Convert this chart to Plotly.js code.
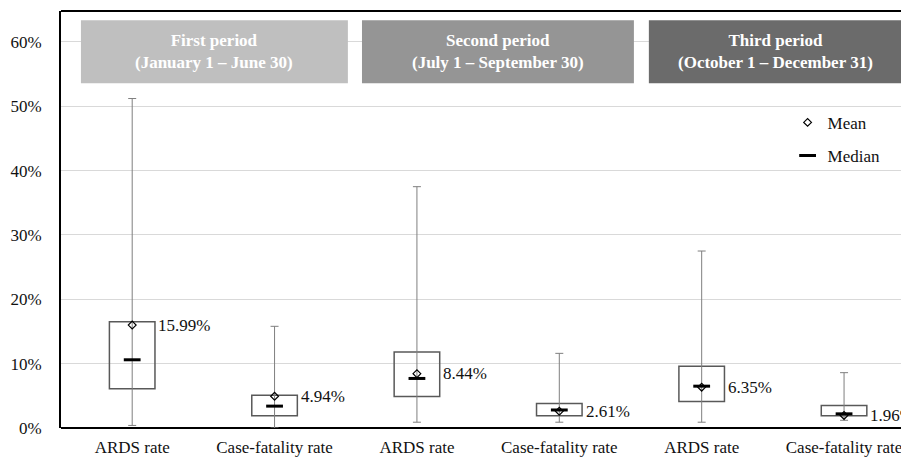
<!DOCTYPE html>
<html>
<head>
<meta charset="utf-8">
<script src="https://cdn.plot.ly/plotly-3.0.1.min.js"></script>
<style>
#chart text, #chart tspan { font-family: "Liberation Serif", serif !important; }
</style>
</head>
<body style="margin:0;background:#fff">
<div id="chart"></div>
<script>
// Data
const categories = ["ARDS rate", "Case-fatality rate", "ARDS rate", "Case-fatality rate", "ARDS rate", "Case-fatality rate"];
const minValues    = [0.004, 0.000, 0.009, 0.009, 0.009, 0.012];
const q1Values     = [0.061, 0.019, 0.049, 0.019, 0.041, 0.019];
const medianValues = [0.106, 0.034, 0.077, 0.028, 0.065, 0.022];
const q3Values     = [0.165, 0.051, 0.118, 0.038, 0.096, 0.035];
const maxValues    = [0.512, 0.158, 0.375, 0.116, 0.275, 0.086];
const meanValues   = [0.1599, 0.0494, 0.0844, 0.0261, 0.0635, 0.0196];
const meanLabels   = ["15.99%", "4.94%", "8.44%", "2.61%", "6.35%", "1.96%"];
const periodLabels = ["First period<br>(January 1 – June 30)", "Second period<br>(July 1 – September 30)", "Third period<br>(October 1 – December 31)"];
const periodColors = ["#bfbfbf", "#959595", "#6b6b6b"];

const xs = categories.map((_, i) => i);
const FAM = "Liberation Serif";
const TXT = "#111";

const boxTrace = {
  type: "bar", x: xs,
  y: q3Values.map((v, i) => v - q1Values[i]),
  base: q1Values, width: 0.32,
  marker: {color: "rgba(0,0,0,0)", line: {color: "#595959", width: 1.5}},
  showlegend: false, hoverinfo: "skip"
};
const whiskerTrace = {
  type: "scatter", mode: "markers", x: xs, y: medianValues,
  marker: {size: 1, color: "rgba(0,0,0,0)"},
  error_y: {type: "data", symmetric: false,
    array: maxValues.map((v, i) => v - medianValues[i]),
    arrayminus: medianValues.map((v, i) => v - minValues[i]),
    color: "#7f7f7f", thickness: 1, width: 4},
  showlegend: false, hoverinfo: "skip"
};
const meanTrace = {
  type: "scatter", mode: "markers", name: "Mean", legendgroup: "mean", x: xs, y: meanValues,
  marker: {symbol: "diamond-open", size: 6, color: "#000", line: {color: "#000", width: 1.2}}
};
const medianTrace = {
  type: "scatter", mode: "markers", name: "Median", legendgroup: "median", x: xs, y: medianValues,
  marker: {symbol: "line-ew", size: 12, color: "#000", line: {color: "#000", width: 3}}
};

const annotations = meanLabels.map((t, i) => ({
  x: i + 0.17, y: meanValues[i], xref: "x", yref: "y", text: t,
  showarrow: false, xanchor: "left", yanchor: "middle",
  font: {family: FAM, size: 17, color: TXT}
}));

const periodBounds = [[-0.36, 1.515], [1.614, 3.524], [3.629, 5.41]];
const shapes = [];
periodBounds.forEach((b, i) => {
  shapes.push({type: "rect", layer: "above", xref: "x", yref: "paper",
    x0: b[0], x1: b[1], y0: 0.827, y1: 0.978,
    fillcolor: periodColors[i], line: {width: 0}});
  annotations.push({
    xref: "x", yref: "paper", x: (b[0] + b[1]) / 2, y: 0.9025,
    text: "<b>" + periodLabels[i].replace("<br>", "</b><br><b>") + "</b>",
    showarrow: false, xanchor: "center", yanchor: "middle",
    font: {family: FAM, size: 17, color: "#ffffff"}, align: "center"
  });
});
// top border line
shapes.push({type: "line", xref: "paper", yref: "paper", x0: 0, x1: 1, y0: 1, y1: 1, line: {color: "#000", width: 2}});

const layout = {
  width: 901, height: 460,
  margin: {l: 61, r: 0, t: 11, b: 32},
  paper_bgcolor: "#fff", plot_bgcolor: "#fff",
  barmode: "overlay",
  font: {family: FAM, size: 17, color: TXT},
  xaxis: {
    range: [-0.5, 5.4], tickvals: xs, ticktext: categories,
    showgrid: false, zeroline: false, showline: false, ticks: "",
    tickfont: {family: FAM, size: 17, color: TXT}, ticklabelstandoff: 7,
    ticklabeloverflow: "allow"
  },
  yaxis: {
    range: [0, 0.648], tickvals: [0, 0.1, 0.2, 0.3, 0.4, 0.5, 0.6], tickformat: ".0%",
    showgrid: true, gridcolor: "#d9d9d9", gridwidth: 1,
    zeroline: true, zerolinecolor: "#000", zerolinewidth: 2,
    showline: true, linecolor: "#000", linewidth: 2, ticks: "",
    tickfont: {family: FAM, size: 17, color: TXT}, ticklabelstandoff: 14
  },
  legend: {x: 0.865, y: 0.775, xanchor: "left", yanchor: "top", bgcolor: "rgba(0,0,0,0)",
    font: {family: FAM, size: 17, color: TXT}, itemwidth: 30, tracegroupgap: 8},
  showlegend: true,
  shapes: shapes, annotations: annotations
};

Plotly.newPlot("chart", [boxTrace, whiskerTrace, meanTrace, medianTrace], layout, {staticPlot: true});
</script>
</body>
</html>
